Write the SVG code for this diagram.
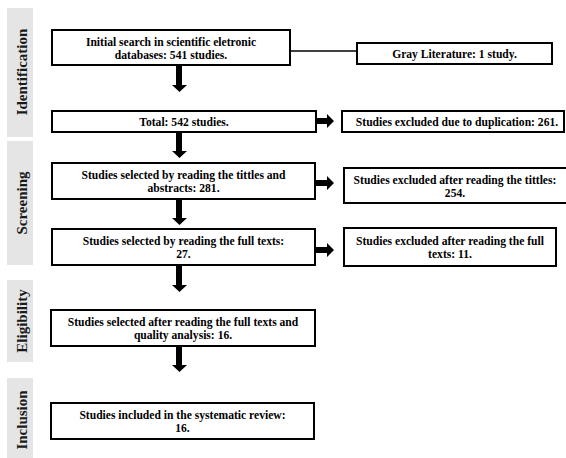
<svg xmlns="http://www.w3.org/2000/svg" width="566" height="458" viewBox="0 0 566 458">
<style>
.band{fill:#e5e5e5}
.lbl{font-family:"Liberation Serif","Times New Roman",serif;font-weight:bold;font-size:15px;fill:#1a1a1a;text-anchor:middle}
.box{fill:#fff;stroke:#000;stroke-width:2}
.t{font-family:"Liberation Serif","Times New Roman",serif;font-weight:bold;font-size:11.6px;fill:#000;text-anchor:middle}
.ar{fill:#000}
</style>
<rect width="566" height="458" fill="#fff"/>
<g id="bands">
<rect class="band" x="7" y="8" width="26" height="129"/>
<rect class="band" x="7" y="141" width="26" height="124"/>
<rect class="band" x="7" y="280" width="26" height="82"/>
<rect class="band" x="7" y="378" width="26" height="80"/>
<text class="lbl" transform="translate(26.5,72) rotate(-90)">Identification</text>
<text class="lbl" transform="translate(26.5,203) rotate(-90)">Screening</text>
<text class="lbl" transform="translate(26.5,321) rotate(-90)">Eligibility</text>
<text class="lbl" transform="translate(26.5,420) rotate(-90)">Inclusion</text>
</g>
<g id="connectors">
<line x1="290" y1="51" x2="357" y2="51" stroke="#000" stroke-width="1.5"/>
<path class="ar" d="M176,65H182V85H187L179.5,92L172,85H176Z"/>
<path class="ar" d="M176,132H182V151H187L179.5,158L172,151H176Z"/>
<path class="ar" d="M176,199H182V218H187L179.5,225L172,218H176Z"/>
<path class="ar" d="M176,265H182V285H187L179.5,292L172,285H176Z"/>
<path class="ar" d="M176,346H182V365H187L179.5,372L172,365H176Z"/>
<path class="ar" d="M316,118H327V114L334,121L327,128V124H316Z"/>
<path class="ar" d="M315,180H327V176L334,183L327,190V186H315Z"/>
<path class="ar" d="M315,247H327V243L334,250L327,257V253H315Z"/>
</g>
<g id="n1"><rect class="box" x="52" y="30" width="238" height="35"/>
<text class="t" x="171" y="46">Initial search in scientific eletronic</text>
<text class="t" x="171" y="59">databases: 541 studies.</text></g>
<g id="n2"><rect class="box" x="357" y="43" width="195" height="21"/>
<text class="t" x="454.5" y="57.5">Gray Literature: 1 study.</text></g>
<g id="n3"><rect class="box" x="52" y="111" width="264" height="21"/>
<text class="t" x="184" y="125.5">Total: 542 studies.</text></g>
<g id="n4"><rect class="box" x="342" y="111" width="222" height="21"/>
<text class="t" x="457" y="125.5">Studies excluded due to duplication: 261.</text></g>
<g id="n5"><rect class="box" x="52" y="163" width="263" height="36"/>
<text class="t" x="183.5" y="178.5">Studies selected by reading the tittles and</text>
<text class="t" x="183.5" y="191.5">abstracts: 281.</text></g>
<g id="n6"><rect class="box" x="344" y="168" width="224" height="35"/>
<text class="t" x="455" y="183.5">Studies excluded after reading the tittles:</text>
<text class="t" x="455" y="196.5">254.</text></g>
<g id="n7"><rect class="box" x="52" y="229" width="263" height="36"/>
<text class="t" x="183.5" y="244.5">Studies selected by reading the full texts:</text>
<text class="t" x="183.5" y="257.5">27.</text></g>
<g id="n8"><rect class="box" x="344" y="228" width="212" height="38"/>
<text class="t" x="450" y="244.5">Studies excluded after reading the full</text>
<text class="t" x="450" y="257.5">texts: 11.</text></g>
<g id="n9"><rect class="box" x="51" y="310" width="264" height="36"/>
<text class="t" x="183" y="325.5">Studies selected after reading the full texts and</text>
<text class="t" x="183" y="338.5">quality analysis: 16.</text></g>
<g id="n10"><rect class="box" x="51" y="403" width="263" height="36"/>
<text class="t" x="182.5" y="418.5">Studies included in the systematic review:</text>
<text class="t" x="182.5" y="431.5">16.</text></g>
</svg>
